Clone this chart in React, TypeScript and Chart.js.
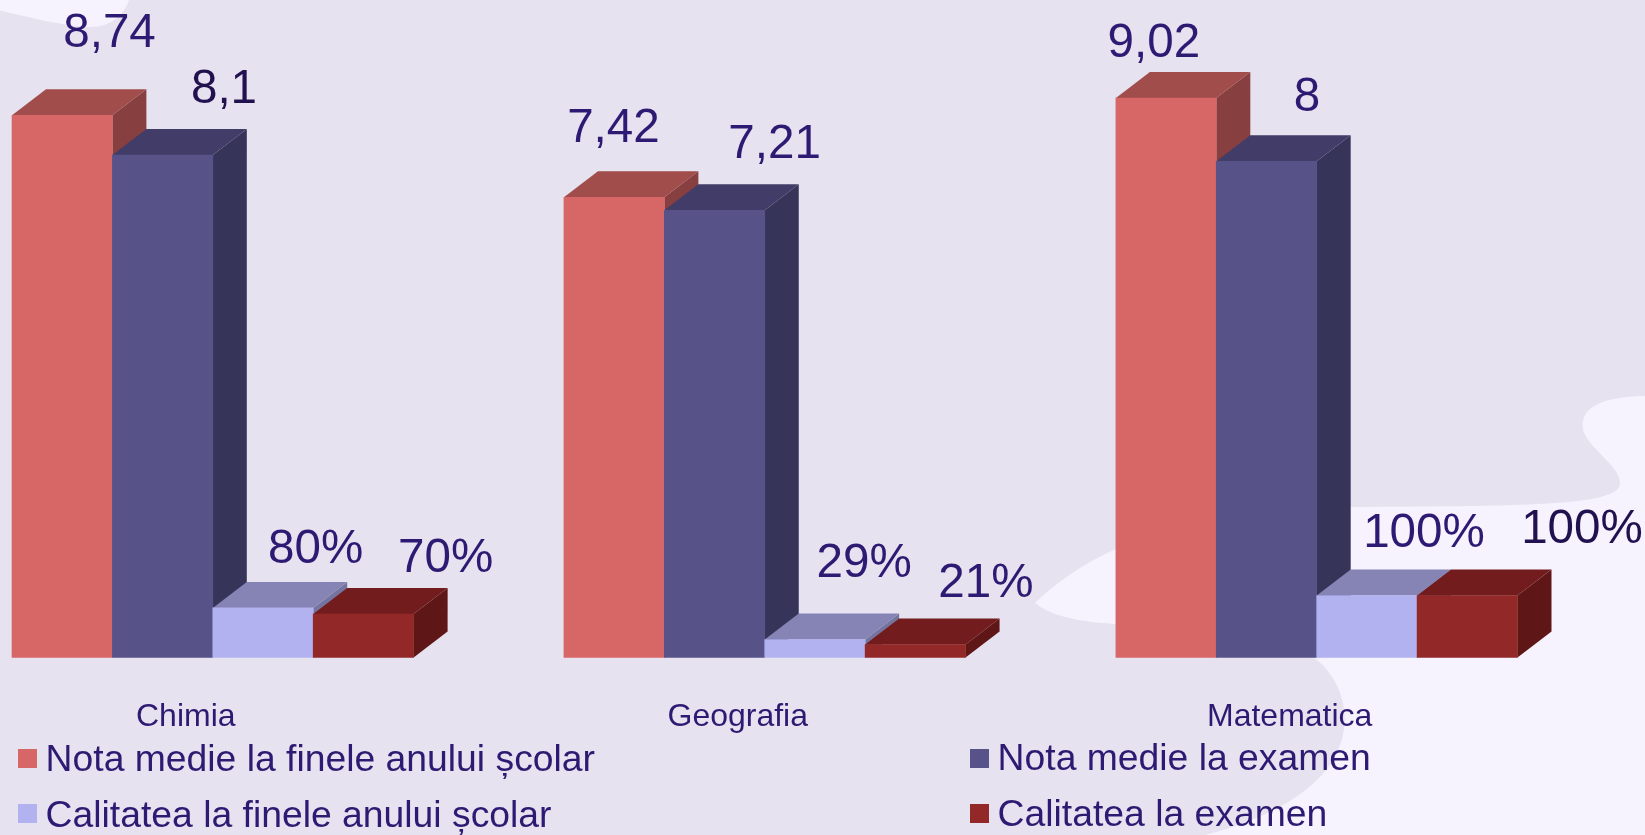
import React, { useEffect, useRef } from "react";
import { Chart, registerables } from "chart.js";

Chart.register(...registerables);

const categories = ["Chimia", "Geografia", "Matematica"];
const seriesNames = [
  "Nota medie la finele anului școlar",
  "Nota medie la examen",
  "Calitatea la finele anului școlar",
  "Calitatea la examen",
];
const notaFinal = [8.74, 7.42, 9.02];
const notaExamen = [8.1, 7.21, 8];
const calitateFinal = [0.8, 0.29, 1];
const calitateExamen = [0.7, 0.21, 1];

const notaLabels = (v: number) => String(v).replace(".", ",");
const percentLabels = (v: number) => `${Math.round(v * 100)}%`;

const frontColors = ["#D76666", "#575388", "#B2B2F0", "#922828"];
const topColors = ["#A04D4B", "#413D68", "#8584B4", "#721C1E"];
const sideColors = ["#873F3F", "#363559", "#74749F", "#5F1616"];

// Hand-placed value labels: shift from the top-centre of each bar.
const labelShiftX = [
  [47.3, -0.7, -12.2],
  [61.4, 60, 40.5],
  [52.6, 49.2, 57.1],
  [82.2, 70.6, 114.7],
];
const labelShiftY = [
  [-68.6, -55.5, -40.6],
  [-52.1, -52.3, -49.9],
  [-44.5, -62.8, -48.1],
  [-41.7, -47.1, -52.8],
];
const labelColors = [
  ["#2D1A72", "#2D1A72", "#2D1A72"],
  ["#21114F", "#2D1A72", "#2D1A72"],
  ["#2D1A72", "#2D1A72", "#2D1A72"],
  ["#2D1A72", "#2D1A72", "#21114F"],
];

const TEXT = "#2D1A72";
const FONT = '"Liberation Sans", Arial, sans-serif';
const DEPTH_X = 34;
const DEPTH_Y = 26;

const BG_DARK = "#E6E2F0";
const BG_LIGHT = "#F6F3FE";
const blobCorner = "M0 0 L129 0 C124 14 112 27 90 27 C70 27 40 20 0 10.5 Z";
const blobLower =
  "M1645 396 C1600 397 1580 408 1583 429 C1586 447 1622 467 1620 484 C1617 505 1540 506 1351 507 C1230 508 1110 530 1035 603 C1050 616 1080 622 1116 624 C1200 630 1290 635 1313 657 C1345 680 1350 720 1340 745 C1325 790 1265 820 1205 835 L1645 835 Z";

const sceneryPlugin = {
  id: "scenery",
  beforeDraw(chart: any) {
    const { ctx, width, height } = chart;
    ctx.save();
    ctx.fillStyle = BG_DARK;
    ctx.fillRect(0, 0, width, height);
    ctx.fillStyle = BG_LIGHT;
    ctx.fill(new Path2D(blobCorner));
    ctx.fill(new Path2D(blobLower));
    ctx.restore();
  },
};

const polygon = (ctx: CanvasRenderingContext2D, pts: number[][], fill: string) => {
  ctx.beginPath();
  pts.forEach(([x, y], i) => (i ? ctx.lineTo(x, y) : ctx.moveTo(x, y)));
  ctx.closePath();
  ctx.fillStyle = fill;
  ctx.fill();
};

// Painter's order, left to right: side and top of a box, then the library's own
// bar element as its front face, so each box hides the faces of the one before.
const extrudePlugin = {
  id: "extrude",
  beforeDatasetsDraw(chart: any) {
    const ctx = chart.ctx;
    ctx.save();
    chart.data.datasets.forEach((_: any, i: number) => {
      chart.getDatasetMeta(i).data.forEach((bar: any) => {
        const { x, y, base, width } = bar.getProps(["x", "y", "base", "width"], true);
        const l = x - width / 2;
        const r = x + width / 2;
        polygon(ctx, [[r, y], [r + DEPTH_X, y - DEPTH_Y], [r + DEPTH_X, base - DEPTH_Y], [r, base]], sideColors[i]);
        polygon(ctx, [[l, y], [l + DEPTH_X, y - DEPTH_Y], [r + DEPTH_X, y - DEPTH_Y], [r, y]], topColors[i]);
        bar.draw(ctx);
      });
    });
    ctx.restore();
    return false;
  },
};

const labelPlugin = {
  id: "valueLabels",
  afterDraw(chart: any) {
    const ctx = chart.ctx;
    ctx.save();
    ctx.font = `47.6px ${FONT}`;
    ctx.textAlign = "center";
    ctx.textBaseline = "alphabetic";
    chart.data.datasets.forEach((ds: any, i: number) => {
      chart.getDatasetMeta(i).data.forEach((bar: any, j: number) => {
        const { x, y } = bar.getProps(["x", "y"], true);
        ctx.fillStyle = labelColors[i][j];
        ctx.fillText(ds.format(ds.data[j]), x + labelShiftX[i][j], y + labelShiftY[i][j]);
      });
    });
    ctx.restore();
  },
};

const legendPlugin = {
  id: "cornerLegend",
  afterDraw(chart: any) {
    const ctx = chart.ctx;
    const cols = [18, 970];
    const rows = [749, 804];
    const baselines = [770.5, 826.5];
    ctx.save();
    ctx.font = `37.3px ${FONT}`;
    ctx.textAlign = "left";
    ctx.textBaseline = "alphabetic";
    chart.data.datasets.forEach((ds: any, i: number) => {
      const x = cols[i % 2];
      const row = i >> 1;
      ctx.fillStyle = ds.backgroundColor;
      ctx.fillRect(x, rows[row], 19, 19);
      ctx.fillStyle = TEXT;
      ctx.fillText(ds.label, x + 27.6, baselines[row] - (i % 2));
    });
    ctx.restore();
  },
};

export default function App() {
  const ref = useRef<HTMLCanvasElement>(null);

  useEffect(() => {
    const series = [notaFinal, notaExamen, calitateFinal, calitateExamen];
    const chart = new Chart(ref.current!, {
      type: "bar",
      data: {
        labels: categories,
        datasets: series.map((data, i) => ({
          label: seriesNames[i],
          data,
          format: i < 2 ? notaLabels : percentLabels,
          backgroundColor: frontColors[i],
          barThickness: 100.4,
          clip: false,
        })) as any,
      },
      options: {
        responsive: false,
        animation: false,
        devicePixelRatio: 1,
        layout: { padding: { left: 212.8, right: 328.3, top: 0, bottom: 0 } },
        plugins: { legend: { display: false }, tooltip: { enabled: false } },
        scales: {
          x: {
            offset: false,
            grid: { display: false, drawTicks: false },
            border: { display: false },
            ticks: {
              color: TEXT,
              font: { family: FONT, size: 32 },
              labelOffset: -27,
              padding: 40,
              autoSkip: false,
              maxRotation: 0,
            },
            afterFit(scale: any) {
              scale.height = 177.5;
            },
          },
          y: { display: false, min: 0, max: 10.6 },
        },
      },
      plugins: [sceneryPlugin, extrudePlugin, labelPlugin, legendPlugin],
    } as any);
    return () => chart.destroy();
  }, []);

  return (
    <div style={{ position: "fixed", left: 0, top: 0, width: 1645, height: 835, overflow: "hidden" }}>
      <canvas ref={ref} width={1645} height={835} style={{ display: "block" }} />
    </div>
  );
}
